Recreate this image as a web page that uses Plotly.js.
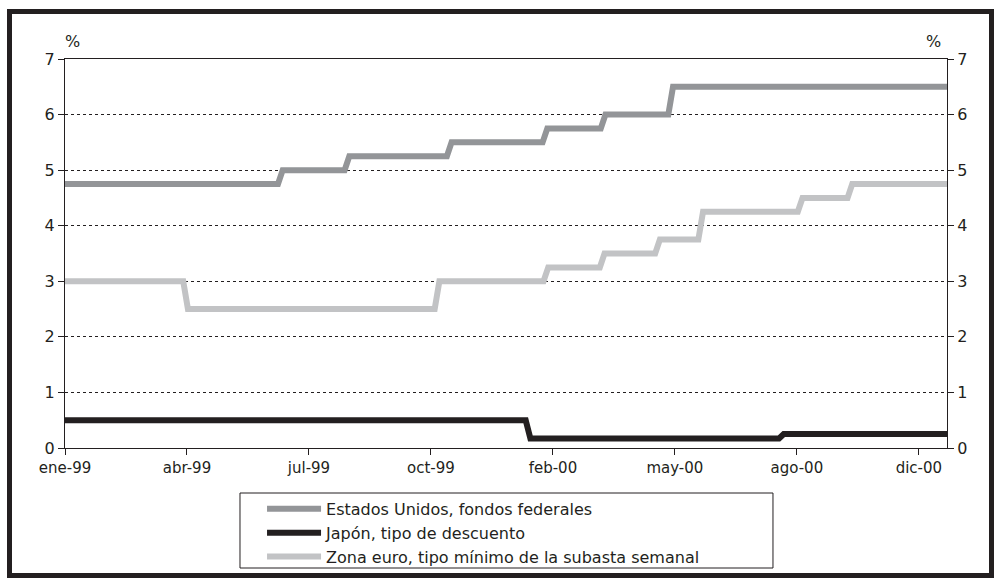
<!DOCTYPE html>
<html>
<head>
<meta charset="utf-8">
<script src="https://cdn.plot.ly/plotly-3.0.1.min.js"></script>
<style>
  html, body { margin: 0; padding: 0; background: #fff; }
  #wrap { position: relative; width: 999px; height: 581px; }
  #chart { position: absolute; left: 0; top: 0; width: 999px; height: 581px; }
  #frame { position: absolute; left: 7px; top: 9px; width: 977px; height: 559px;
           border: 5px solid #231f20; pointer-events: none; }
</style>
</head>
<body>
<div id="wrap">
  <div id="chart"></div>
  <div id="frame"></div>
</div>
<script>
// x axis: weeks since start (ene-99)
const totalWeeks = 94;
const tickWeeks = [0, 13, 26, 39, 52, 65, 78, 91];
const tickLabels = ["ene-99", "abr-99", "jul-99", "oct-99", "feb-00", "may-00", "ago-00", "dic-00"];

// Estados Unidos, fondos federales
const usLevels = [4.75, 5.0, 5.25, 5.5, 5.75, 6.0, 6.5];
const usChangeWeeks = [22.7, 29.8, 40.7, 50.9, 57.1, 64.3];

// Japón, tipo de descuento
const jpLevels = [0.5, 0.17, 0.25];
const jpChangeWeeks = [49.1, 76.1];

// Zona euro, tipo mínimo de la subasta semanal
const euLevels = [3.0, 2.5, 3.0, 3.25, 3.5, 3.75, 4.25, 4.5, 4.75];
const euChangeWeeks = [12.6, 39.4, 51.0, 57.0, 62.9, 67.5, 78.1, 83.4];

const names = ["Estados Unidos, fondos federales", "Japón, tipo de descuento", "Zona euro, tipo mínimo de la subasta semanal"];
const colors = ["#939598", "#231f20", "#c2c3c5"];

// weekly step series: each change takes about half a week to move between levels
function buildSeries(levels, changes) {
  const x = [0], y = [levels[0]];
  changes.forEach((w, i) => {
    x.push(w); y.push(levels[i]);
    x.push(w + 0.5); y.push(levels[i + 1]);
  });
  x.push(totalWeeks); y.push(levels[levels.length - 1]);
  return {x, y};
}

const us = buildSeries(usLevels, usChangeWeeks);
const jp = buildSeries(jpLevels, jpChangeWeeks);
const eu = buildSeries(euLevels, euChangeWeeks);

const font = "'DejaVu Sans', sans-serif";
const ink = "#231f20";

const traces = [
  {x: us.x, y: us.y, name: names[0], mode: "lines", line: {color: colors[0], width: 6}},
  {x: jp.x, y: jp.y, name: names[1], mode: "lines", line: {color: colors[1], width: 6}},
  {x: eu.x, y: eu.y, name: names[2], mode: "lines", line: {color: colors[2], width: 6}},
  {x: [0, totalWeeks], y: [0, 0], yaxis: "y2", mode: "lines", line: {width: 0}, showlegend: false, hoverinfo: "skip"}
];

const layout = {
  width: 999, height: 581,
  margin: {l: 65, r: 52, t: 59, b: 133, autoexpand: false},
  paper_bgcolor: "#fff", plot_bgcolor: "#fff",
  font: {family: font, size: 15, color: ink},
  showlegend: true,
  legend: {
    x: 0.2234, y: -0.1130, xanchor: "left", yanchor: "top",
    borderwidth: 0, bgcolor: "rgba(0,0,0,0)",
    font: {family: font, size: 16, color: ink},
    tracegroupgap: 0, itemwidth: 54
  },
  shapes: [
    {type: "rect", xref: "paper", yref: "paper", x0: 0.1984, x1: 0.8027, y0: -0.3085, y1: -0.1157,
     line: {color: ink, width: 1}, fillcolor: "rgba(0,0,0,0)", layer: "below"}
  ],
  xaxis: {
    range: [0, totalWeeks],
    tickmode: "array", tickvals: tickWeeks, ticktext: tickLabels,
    showgrid: false, zeroline: false,
    showline: true, linecolor: ink, linewidth: 1, mirror: true,
    ticks: "outside", ticklen: 6, tickcolor: ink, tickwidth: 1,
    tickfont: {family: font, size: 15, color: ink}
  },
  yaxis: {
    range: [0, 7], dtick: 1, tick0: 0,
    showgrid: true, gridcolor: ink, gridwidth: 1, griddash: "dot",
    zeroline: false,
    showline: true, linecolor: ink, linewidth: 1,
    ticks: "outside", ticklen: 6, tickcolor: ink,
    tickfont: {family: font, size: 16, color: ink}
  },
  yaxis2: {
    range: [0, 7], dtick: 1, tick0: 0, overlaying: "y", side: "right",
    showgrid: false, zeroline: false,
    showline: true, linecolor: ink, linewidth: 1,
    ticks: "outside", ticklen: 6, tickcolor: ink,
    tickfont: {family: font, size: 16, color: ink}
  },
  annotations: [
    {text: "%", xref: "paper", yref: "paper", x: 0.008, y: 1.0, yshift: 6, xanchor: "center", yanchor: "bottom", showarrow: false, font: {family: font, size: 16, color: ink}},
    {text: "%", xref: "paper", yref: "paper", x: 0.985, y: 1.0, yshift: 6, xanchor: "center", yanchor: "bottom", showarrow: false, font: {family: font, size: 16, color: ink}}
  ]
};

Plotly.newPlot("chart", traces, layout, {displayModeBar: false, staticPlot: true});
</script>
</body>
</html>
